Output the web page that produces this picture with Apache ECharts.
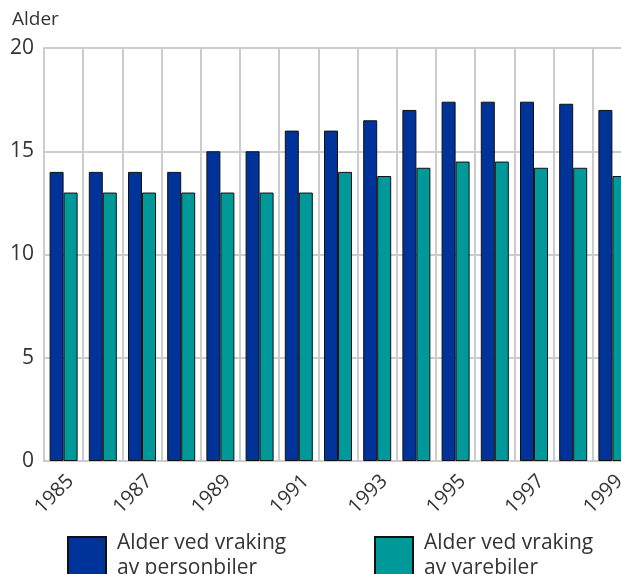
<!DOCTYPE html>
<html>
<head>
<meta charset="utf-8">
<script src="https://cdn.jsdelivr.net/npm/echarts@6/dist/echarts.min.js"></script>
<style>
  html, body { margin: 0; padding: 0; background: #fff; }
  #chart { width: 621px; height: 574px; }
</style>
</head>
<body>
<div id="chart"></div>
<script>
// data
var years = ['1985', '1986', '1987', '1988', '1989', '1990', '1991', '1992',
             '1993', '1994', '1995', '1996', '1997', '1998', '1999'];
var personbiler = [14, 14, 14, 14, 15, 15, 16, 16, 16.5, 17, 17.4, 17.4, 17.4, 17.3, 17];
var varebiler = [13, 13, 13, 13, 13, 13, 13, 14, 13.8, 14.2, 14.5, 14.5, 14.2, 14.2, 13.8];
var yTicks = [0, 5, 10, 15, 20];

var font = 'Open Sans';
var chart = echarts.init(document.getElementById('chart'));

var legendText = { fontSize: 21, color: '#333', fontFamily: font, lineHeight: 25, padding: [0, 0, 0, 6] };

chart.setOption({
  animation: false,
  textStyle: { fontFamily: font },
  // the plot runs past the right edge, like in the original
  grid: { left: 44, width: 588, top: 48, bottom: 113, outerBoundsMode: 'none' },
  legend: [
    {
      data: ['Alder ved vraking\nav personbiler'],
      left: 67, top: 531, padding: 0,
      icon: 'rect', itemWidth: 38, itemHeight: 38,
      textStyle: legendText
    },
    {
      data: ['Alder ved vraking\nav varebiler'],
      left: 374, top: 531, padding: 0,
      icon: 'rect', itemWidth: 38, itemHeight: 38,
      textStyle: legendText
    }
  ],
  graphic: [{
    type: 'text', left: 12, top: 10,
    style: { text: 'Alder', fontSize: 19, fill: '#333', fontFamily: font }
  }],
  xAxis: {
    type: 'category',
    data: years,
    axisLine: { lineStyle: { color: '#cccccc', width: 2 } },
    axisTick: { show: false },
    splitLine: { show: true, interval: 0, lineStyle: { color: '#cccccc', width: 2 } },
    axisLabel: { interval: 1, rotate: 45, fontSize: 20, color: '#333', margin: 10, verticalAlign: 'top' }
  },
  yAxis: {
    type: 'value',
    min: yTicks[0], max: yTicks[yTicks.length - 1], interval: 5,
    axisLine: { show: true, lineStyle: { color: '#cccccc', width: 2 } },
    axisTick: { show: false },
    splitLine: { lineStyle: { color: '#cccccc', width: 2 } },
    axisLabel: { fontSize: 21, color: '#333', margin: 10 }
  },
  series: [
    {
      name: 'Alder ved vraking\nav personbiler',
      type: 'bar',
      data: personbiler,
      barWidth: 14, barGap: '0%',
      itemStyle: { color: '#003399', borderColor: '#111', borderWidth: 1 }
    },
    {
      name: 'Alder ved vraking\nav varebiler',
      type: 'bar',
      data: varebiler,
      barWidth: 14,
      itemStyle: { color: '#009999', borderColor: '#111', borderWidth: 1 }
    }
  ]
});
</script>
</body>
</html>
